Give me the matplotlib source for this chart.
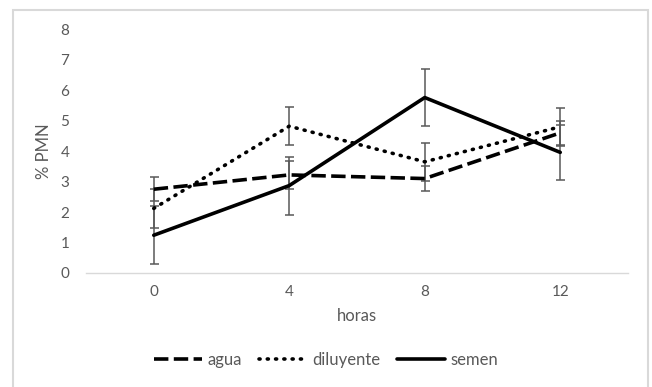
import matplotlib.pyplot as plt
from matplotlib.patches import Rectangle

# datos
horas = ["0", "4", "8", "12"]
agua = [2.75, 3.22, 3.10, 4.60]
agua_err = [0.40, 0.45, 0.40, 0.40]
diluyente = [2.12, 4.82, 3.65, 4.80]
diluyente_err = [0.65, 0.63, 0.63, 0.63]
semen = [1.24, 2.87, 5.76, 3.96]
semen_err = [0.95, 0.95, 0.95, 0.90]

gris = "#595959"
plt.rcParams['font.family'] = ['Lato', 'DejaVu Sans']

fig = plt.figure(figsize=(6.52, 3.87), dpi=100)
ax = fig.add_axes([86 / 652, 1 - 273 / 387, 542 / 652, (273 - 29.3) / 387])

x = list(range(len(horas)))
lw = 3.6 * 72 / 100

series = [
    ("agua", agua, agua_err, dict(linestyle=(0, (4.0, 1.5)), dash_capstyle='butt')),
    ("diluyente", diluyente, diluyente_err, dict(linestyle=(0, (0.3, 2.0)), dash_capstyle='round')),
    ("semen", semen, semen_err, dict(linestyle='-', solid_capstyle='round')),
]

handles = []
for nombre, vals, err, estilo in series:
    ax.errorbar(x, vals, yerr=err, fmt='none', ecolor=gris, elinewidth=1.1,
                capsize=4.5 * 72 / 100, capthick=1.1, zorder=2)
    h, = ax.plot(x, vals, color='black', lw=lw, label=nombre, zorder=3, **estilo)
    handles.append(h)

ax.set_xlim(-0.5, 3.5)
ax.set_ylim(0, 8)
ax.set_yticks(range(0, 9))
ax.set_xticks(x)
ax.set_xticklabels(horas)
for s in ['top', 'right', 'left']:
    ax.spines[s].set_visible(False)
ax.spines['bottom'].set_color('#d9d9d9')
ax.spines['bottom'].set_linewidth(1)
ax.tick_params(length=0, colors=gris, labelsize=11)
ax.tick_params(axis='y', pad=12)
ax.tick_params(axis='x', pad=9)

ax.set_ylabel("% PMN", color=gris, fontsize=12, labelpad=6)
ax.set_xlabel("horas", color=gris, fontsize=12, labelpad=6)

fig.legend(handles=handles, loc='center', bbox_to_anchor=(0.5, 1 - 360 / 387), ncol=3,
           frameon=False, fontsize=12, labelcolor=gris, handlelength=2.9,
           handletextpad=0.3, columnspacing=1.0)

# marco del grafico
fig.patches.append(Rectangle((13.5 / 652, -0.05), (648 - 13.5) / 652, 1.05 - 10 / 387,
                             transform=fig.transFigure, fill=False,
                             edgecolor='#d9d9d9', lw=1.5))

fig.savefig("out.png", dpi=100)
